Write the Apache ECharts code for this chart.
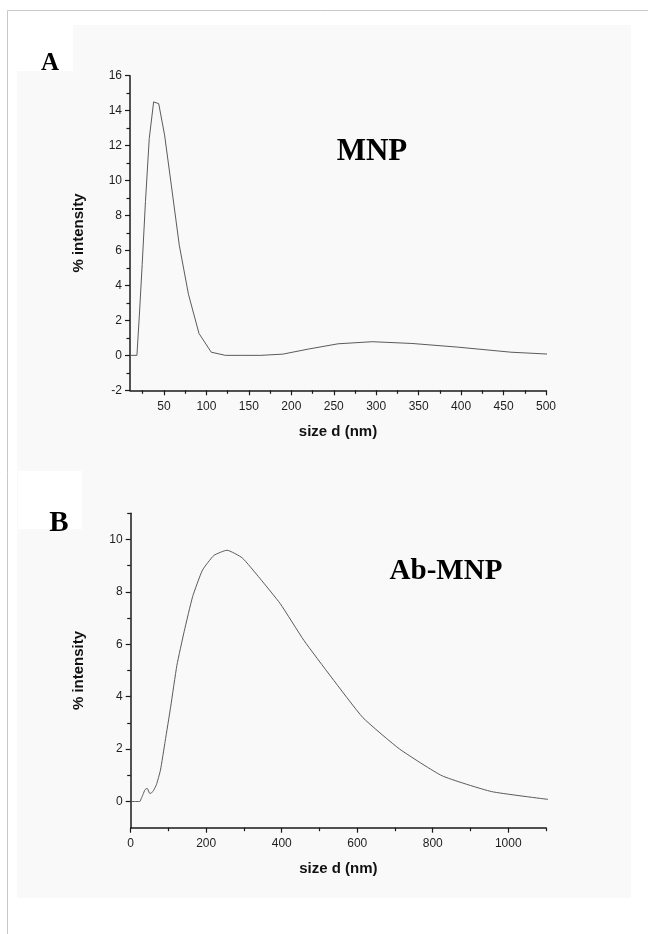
<!DOCTYPE html>
<html>
<head>
<meta charset="utf-8">
<script src="https://cdn.jsdelivr.net/npm/echarts@6/dist/echarts.min.js"></script>
<style>
html,body{margin:0;padding:0;background:#fff;}
#chart{width:648px;height:934px;}
</style>
</head>
<body>
<div id="chart"></div>
<script>
// ---- Panel A (MNP) ----
var sizesA = [10.1, 11.7, 13.54, 15.69, 18.17, 21.04, 24.36, 28.21, 32.67, 37.84, 43.82, 50.75, 58.77, 68.06, 78.82, 91.28, 105.7, 122.4, 141.8, 164.2, 190.1, 220.2, 255.0, 295.3, 342.0, 396.1, 458.7, 531.2];
var intensityA = [0, 0, 0, 0, 0, 2.3, 5.2, 8.8, 12.4, 14.5, 14.4, 12.6, 9.7, 6.3, 3.5, 1.25, 0.18, 0, 0, 0, 0.07, 0.36, 0.66, 0.78, 0.68, 0.47, 0.18, 0.0];
var xLabelsA = [50, 100, 150, 200, 250, 300, 350, 400, 450, 500];
var xMinorA = [25, 75, 125, 175, 225, 275, 325, 375, 425, 475];
var yLabelsA = [-2, 0, 2, 4, 6, 8, 10, 12, 14, 16];
var yMinorA = [-1, 1, 3, 5, 7, 9, 11, 13, 15];

// ---- Panel B (Ab-MNP) ----
var sizesB = [0.4, 21.04, 24.36, 28.21, 32.67, 37.84, 43.82, 50.75, 58.77, 68.06, 78.82, 91.28, 105.7, 122.4, 141.8, 164.2, 190.1, 220.2, 255.0, 295.3, 342.0, 396.1, 458.7, 531.2, 615.1, 712.4, 825.0, 955.4, 1106];
var intensityB = [0, 0, 0, 0.12, 0.27, 0.45, 0.5, 0.3, 0.38, 0.64, 1.2, 2.3, 3.6, 5.2, 6.5, 7.83, 8.83, 9.39, 9.59, 9.3, 8.52, 7.55, 6.15, 4.75, 3.2, 2.0, 0.98, 0.38, 0.08];
var xLabelsB = [0, 200, 400, 600, 800, 1000];
var xMinorB = [100, 300, 500, 700, 900, 1100];
var yLabelsB = [0, 2, 4, 6, 8, 10];
var yMinorB = [1, 3, 5, 7, 9, 11];

var pairs = function (xs, ys) { return xs.map(function (x, i) { return [x, ys[i]]; }); };
var plain = function (v) { return String(v); };

var axisColor = '#1a1a1a';
var labelFont = { color: '#1e1e1e', fontFamily: 'Liberation Sans, Arial, sans-serif', fontSize: 12 };
var nameFont = { color: '#111', fontFamily: 'Liberation Sans, Arial, sans-serif', fontSize: 15, fontWeight: 'bold' };

function xAxisMain(grid, min, max, labels, name) {
  return {
    type: 'value', gridIndex: grid, min: min, max: max, position: 'bottom',
    name: name, nameLocation: 'middle', nameGap: 34, nameTextStyle: nameFont,
    axisLine: { show: true, onZero: false, lineStyle: { color: axisColor, width: 1.5 } },
    axisTick: { show: true, inside: false, length: 5, customValues: labels, lineStyle: { color: axisColor, width: 1.2 } },
    axisLabel: Object.assign({ margin: 10, customValues: labels, formatter: plain }, labelFont),
    splitLine: { show: false }
  };
}
function xAxisMinor(grid, min, max, ticks) {
  return {
    type: 'value', gridIndex: grid, min: min, max: max, position: 'bottom',
    axisLine: { show: false, onZero: false },
    axisTick: { show: true, inside: false, length: 3.5, customValues: ticks, lineStyle: { color: axisColor, width: 1.2 } },
    axisLabel: { show: false }, splitLine: { show: false }
  };
}
function yAxisMain(grid, min, max, labels, name) {
  return {
    type: 'value', gridIndex: grid, min: min, max: max, position: 'left',
    name: name, nameLocation: 'middle', nameGap: 44, nameTextStyle: nameFont,
    axisLine: { show: true, onZero: false, lineStyle: { color: axisColor, width: 1.5 } },
    axisTick: { show: true, inside: false, length: 5, customValues: labels, lineStyle: { color: axisColor, width: 1.2 } },
    axisLabel: Object.assign({ margin: 8, customValues: labels, formatter: plain }, labelFont),
    splitLine: { show: false }
  };
}
function yAxisMinor(grid, min, max, ticks) {
  return {
    type: 'value', gridIndex: grid, min: min, max: max, position: 'left',
    axisLine: { show: false, onZero: false },
    axisTick: { show: true, inside: false, length: 3.5, customValues: ticks, lineStyle: { color: axisColor, width: 1.2 } },
    axisLabel: { show: false }, splitLine: { show: false }
  };
}

var chart = echarts.init(document.getElementById('chart'), null, { renderer: 'canvas' });
var option = {
  backgroundColor: '#ffffff',
  animation: false,
  graphic: [
    { type: 'rect', z: -10, silent: true, shape: { x: 17, y: 25, width: 614, height: 873 }, style: { fill: '#f9f9f9' } },
    { type: 'line', z: -9, silent: true, shape: { x1: 7.5, y1: 10.5, x2: 648, y2: 10.5 }, style: { stroke: '#c9c9c9', lineWidth: 1 } },
    { type: 'line', z: -9, silent: true, shape: { x1: 7.5, y1: 10.5, x2: 7.5, y2: 934 }, style: { stroke: '#c9c9c9', lineWidth: 1 } },
    { type: 'rect', z: -8, silent: true, shape: { x: 17, y: 25, width: 56, height: 46 }, style: { fill: '#ffffff' } },
    { type: 'rect', z: -8, silent: true, shape: { x: 18, y: 471, width: 64, height: 58 }, style: { fill: '#ffffff' } },
    { type: 'text', style: { text: 'A', x: 50, y: 51, align: 'center', verticalAlign: 'alphabetic', font: 'bold 25px "Liberation Serif", "Times New Roman", serif', fill: '#000' } },
    { type: 'text', style: { text: 'B', x: 59, y: 509.5, align: 'center', verticalAlign: 'alphabetic', font: 'bold 29px "Liberation Serif", "Times New Roman", serif', fill: '#000' } },
    { type: 'text', style: { text: 'MNP', x: 372, y: 136, align: 'center', verticalAlign: 'alphabetic', font: 'bold 31px "Liberation Serif", "Times New Roman", serif', fill: '#000' } },
    { type: 'text', style: { text: 'Ab-MNP', x: 446, y: 557.5, align: 'center', verticalAlign: 'alphabetic', font: 'bold 29px "Liberation Serif", "Times New Roman", serif', fill: '#000' } }
  ],
  grid: [
    { left: 130, top: 75.7, width: 416, height: 314.6, containLabel: false },
    { left: 130.7, top: 513.3, width: 415.3, height: 314.4, containLabel: false }
  ],
  xAxis: [
    xAxisMain(0, 10, 500, xLabelsA, 'size d (nm)'),
    xAxisMinor(0, 10, 500, xMinorA),
    xAxisMain(1, 0, 1100, xLabelsB, 'size d (nm)'),
    xAxisMinor(1, 0, 1100, xMinorB)
  ],
  yAxis: [
    yAxisMain(0, -2, 16, yLabelsA, '% intensity'),
    yAxisMinor(0, -2, 16, yMinorA),
    yAxisMain(1, -1, 11, yLabelsB, '% intensity'),
    yAxisMinor(1, -1, 11, yMinorB)
  ],
  series: [
    { type: 'line', xAxisIndex: 0, yAxisIndex: 0, data: pairs(sizesA, intensityA), showSymbol: false, symbol: 'none', clip: true,
      lineStyle: { color: '#5a5a5a', width: 1 } },
    { type: 'line', xAxisIndex: 2, yAxisIndex: 2, data: pairs(sizesB, intensityB), showSymbol: false, symbol: 'none', clip: true, smooth: 0.15,
      lineStyle: { color: '#5a5a5a', width: 1 } }
  ]
};
chart.setOption(option);
</script>
</body>
</html>
